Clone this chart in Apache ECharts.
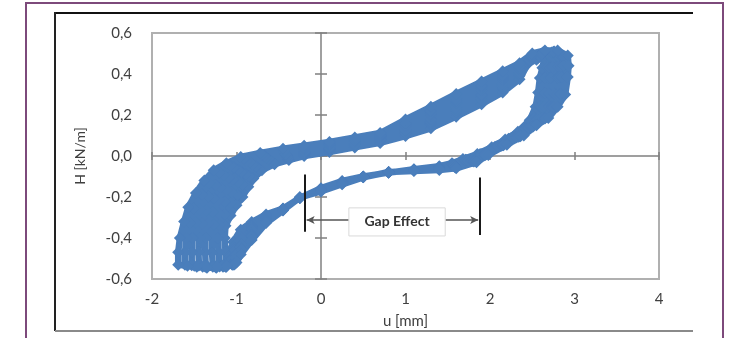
<!DOCTYPE html>
<html>
<head>
<meta charset="utf-8">
<script src="https://cdn.jsdelivr.net/npm/echarts@6/dist/echarts.min.js"></script>
<style>
  html, body { margin: 0; padding: 0; background: #fff; }
  #chart { width: 732px; height: 338px; }
</style>
</head>
<body>
<div id="chart"></div>
<script>
// u [mm], H [kN/m], one array per loading cycle
const cycle1 = [
  [-1.02, -0.525], [-1.12, -0.54], [-1.13, -0.47], [-1.14, -0.40], [-1.13, -0.34], [-1.07, -0.29], [-1.00, -0.24], [-0.93, -0.20], [-0.86, -0.15], [-0.80, -0.11], [-0.70, -0.07], [-0.55, -0.04], [-0.38, -0.02],
  [-0.20, 0.000], [0.10, 0.019], [0.40, 0.042], [0.70, 0.064], [1.00, 0.097], [1.30, 0.135], [1.60, 0.192], [1.90, 0.253], [2.15, 0.310], [2.35, 0.375], [2.45, 0.450],
  [2.55, 0.470], [2.62, 0.490], [2.64, 0.470], [2.62, 0.430], [2.59, 0.380], [2.57, 0.310], [2.54, 0.240], [2.47, 0.175], [2.33, 0.118], [2.18, 0.080], [2.02, 0.043], [1.85, 0.010], [1.68, -0.015],
  [1.55, -0.035], [1.40, -0.050], [1.10, -0.065], [0.80, -0.081], [0.50, -0.100], [0.25, -0.122], [0.00, -0.157], [-0.25, -0.205], [-0.45, -0.256], [-0.65, -0.285], [-0.82, -0.322], [-0.95, -0.360], [-1.04, -0.420], [-1.08, -0.480]
];
const cycle2 = [
  [-1.06, -0.525], [-1.13, -0.535], [-1.20, -0.539], [-1.21, -0.47], [-1.22, -0.40], [-1.20, -0.337], [-1.14, -0.284], [-1.07, -0.231], [-0.99, -0.189], [-0.92, -0.139], [-0.85, -0.099], [-0.74, -0.061], [-0.57, -0.032], [-0.39, -0.012],
  [-0.20, 0.010], [0.10, 0.029], [0.40, 0.052], [0.70, 0.074], [1.00, 0.113], [1.30, 0.156], [1.60, 0.214], [1.90, 0.275], [2.15, 0.331], [2.35, 0.391], [2.46, 0.460],
  [2.57, 0.479], [2.66, 0.495], [2.70, 0.474], [2.68, 0.432], [2.66, 0.381], [2.63, 0.308], [2.59, 0.240], [2.51, 0.177], [2.37, 0.124], [2.22, 0.084], [2.06, 0.045], [1.88, 0.009], [1.71, -0.018],
  [1.56, -0.040], [1.40, -0.054], [1.10, -0.067], [0.80, -0.080], [0.50, -0.101], [0.25, -0.125], [0.00, -0.160], [-0.25, -0.204], [-0.45, -0.258], [-0.65, -0.293], [-0.82, -0.340], [-0.95, -0.384], [-1.03, -0.440], [-1.07, -0.490]
];
const cycle3 = [
  [-1.05, -0.53], [-1.16, -0.54], [-1.28, -0.537], [-1.29, -0.47], [-1.29, -0.40], [-1.27, -0.334], [-1.21, -0.279], [-1.14, -0.223], [-1.06, -0.177], [-0.98, -0.127], [-0.89, -0.089], [-0.77, -0.051], [-0.60, -0.024], [-0.40, -0.004],
  [-0.20, 0.015], [0.10, 0.034], [0.40, 0.056], [0.70, 0.078], [1.00, 0.121], [1.30, 0.166], [1.60, 0.225], [1.90, 0.286], [2.15, 0.341], [2.35, 0.398], [2.46, 0.465],
  [2.58, 0.484], [2.68, 0.498], [2.73, 0.476], [2.71, 0.433], [2.69, 0.381], [2.66, 0.307], [2.61, 0.240], [2.53, 0.178], [2.40, 0.128], [2.25, 0.086], [2.08, 0.046], [1.89, 0.008], [1.72, -0.020],
  [1.57, -0.043], [1.40, -0.055], [1.10, -0.067], [0.80, -0.080], [0.50, -0.101], [0.25, -0.126], [0.00, -0.161], [-0.25, -0.204], [-0.45, -0.259], [-0.65, -0.297], [-0.82, -0.348], [-0.95, -0.396], [-1.02, -0.450], [-1.06, -0.500]
];
const cycle4 = [
  [-1.05, -0.52], [-1.15, -0.53], [-1.26, -0.535], [-1.365, -0.536], [-1.37, -0.47], [-1.37, -0.40], [-1.34, -0.331], [-1.28, -0.273], [-1.21, -0.214], [-1.12, -0.166], [-1.04, -0.116], [-0.94, -0.078], [-0.81, -0.042], [-0.62, -0.016], [-0.41, 0.004],
  [-0.20, 0.020], [0.10, 0.039], [0.40, 0.061], [0.70, 0.083], [1.00, 0.129], [1.30, 0.177], [1.60, 0.236], [1.90, 0.297], [2.15, 0.351], [2.35, 0.406], [2.47, 0.470],
  [2.59, 0.488], [2.69, 0.500], [2.75, 0.478], [2.74, 0.434], [2.72, 0.382], [2.70, 0.306], [2.64, 0.240], [2.56, 0.179], [2.42, 0.131], [2.27, 0.088], [2.09, 0.048], [1.90, 0.008], [1.74, -0.021],
  [1.57, -0.045], [1.40, -0.057], [1.10, -0.068], [0.80, -0.080], [0.50, -0.102], [0.25, -0.128], [0.00, -0.163], [-0.25, -0.204], [-0.45, -0.260], [-0.65, -0.302], [-0.82, -0.357], [-0.95, -0.408], [-1.02, -0.460], [-1.05, -0.505]
];
const cycle5 = [
  [-1.04, -0.525], [-1.14, -0.535], [-1.25, -0.54], [-1.35, -0.535], [-1.445, -0.534], [-1.45, -0.47], [-1.44, -0.40], [-1.41, -0.329], [-1.36, -0.267], [-1.27, -0.206], [-1.19, -0.154], [-1.09, -0.104], [-0.98, -0.067], [-0.84, -0.033], [-0.65, -0.009], [-0.42, 0.011],
  [-0.20, 0.030], [0.10, 0.048], [0.40, 0.071], [0.70, 0.093], [1.00, 0.146], [1.30, 0.198], [1.60, 0.259], [1.90, 0.319], [2.15, 0.372], [2.35, 0.422], [2.48, 0.480],
  [2.61, 0.497], [2.73, 0.505], [2.81, 0.482], [2.81, 0.436], [2.79, 0.383], [2.76, 0.304], [2.70, 0.240], [2.60, 0.181], [2.46, 0.137], [2.31, 0.092], [2.13, 0.050], [1.93, 0.007], [1.78, -0.024],
  [1.58, -0.050], [1.40, -0.061], [1.10, -0.070], [0.80, -0.079], [0.50, -0.102], [0.25, -0.132], [0.00, -0.167], [-0.25, -0.203], [-0.45, -0.262], [-0.65, -0.310], [-0.82, -0.375], [-0.95, -0.432], [-1.01, -0.480]
];
const cycle6 = [
  [-1.04, -0.525], [-1.16, -0.535], [-1.28, -0.54], [-1.40, -0.54], [-1.53, -0.533], [-1.53, -0.47], [-1.52, -0.40], [-1.48, -0.326], [-1.43, -0.261], [-1.34, -0.197], [-1.25, -0.143], [-1.15, -0.093], [-1.03, -0.056], [-0.88, -0.024], [-0.67, -0.001], [-0.43, 0.019],
  [-0.20, 0.035], [0.10, 0.053], [0.40, 0.075], [0.70, 0.097], [1.00, 0.154], [1.30, 0.208], [1.60, 0.270], [1.90, 0.330], [2.15, 0.382], [2.35, 0.430], [2.49, 0.485],
  [2.62, 0.502], [2.75, 0.508], [2.84, 0.484], [2.84, 0.437], [2.82, 0.384], [2.80, 0.303], [2.73, 0.240], [2.63, 0.182], [2.49, 0.140], [2.34, 0.094], [2.15, 0.052], [1.94, 0.006], [1.80, -0.026],
  [1.58, -0.052], [1.40, -0.062], [1.10, -0.070], [0.80, -0.079], [0.50, -0.102], [0.25, -0.133], [0.00, -0.168], [-0.25, -0.203], [-0.45, -0.263], [-0.65, -0.314], [-0.82, -0.384], [-0.95, -0.444], [-1.00, -0.490]
];
const cycle7 = [
  [-1.03, -0.53], [-1.13, -0.54], [-1.24, -0.545], [-1.37, -0.54], [-1.50, -0.535], [-1.61, -0.531], [-1.61, -0.47], [-1.59, -0.40], [-1.55, -0.323], [-1.50, -0.256], [-1.41, -0.189], [-1.32, -0.131], [-1.21, -0.081], [-1.07, -0.046], [-0.91, -0.014], [-0.70, 0.007], [-0.44, 0.027],
  [-0.20, 0.040], [0.10, 0.058], [0.40, 0.080], [0.70, 0.102], [1.00, 0.162], [1.30, 0.219], [1.60, 0.281], [1.90, 0.341], [2.15, 0.392], [2.35, 0.437], [2.49, 0.490],
  [2.63, 0.506], [2.76, 0.510], [2.86, 0.486], [2.87, 0.438], [2.85, 0.384], [2.83, 0.302], [2.75, 0.240], [2.65, 0.183], [2.51, 0.144], [2.36, 0.096], [2.16, 0.053], [1.95, 0.006], [1.81, -0.027],
  [1.59, -0.055], [1.40, -0.064], [1.10, -0.071], [0.80, -0.079], [0.50, -0.103], [0.25, -0.135], [0.00, -0.170], [-0.25, -0.203], [-0.45, -0.264], [-0.65, -0.319], [-0.82, -0.392], [-0.95, -0.456], [-1.00, -0.500]
];
const cycle8 = [
  [-1.02, -0.525], [-1.12, -0.535], [-1.23, -0.54], [-1.35, -0.545], [-1.47, -0.54], [-1.58, -0.535], [-1.69, -0.53], [-1.69, -0.47], [-1.67, -0.40], [-1.62, -0.32], [-1.57, -0.25], [-1.48, -0.18], [-1.38, -0.12], [-1.27, -0.07], [-1.12, -0.035], [-0.95, -0.005], [-0.72, 0.015], [-0.45, 0.035],
  [-0.20, 0.050], [0.10, 0.068], [0.40, 0.090], [0.70, 0.112], [1.00, 0.178], [1.30, 0.240], [1.60, 0.303], [1.90, 0.363], [2.15, 0.413], [2.35, 0.453], [2.50, 0.500],
  [2.65, 0.515], [2.80, 0.515], [2.92, 0.490], [2.93, 0.440], [2.92, 0.385], [2.89, 0.300], [2.80, 0.240], [2.69, 0.185], [2.55, 0.150], [2.40, 0.100], [2.20, 0.055], [1.98, 0.005], [1.84, -0.030],
  [1.60, -0.060], [1.40, -0.068], [1.10, -0.073], [0.80, -0.078], [0.50, -0.104], [0.25, -0.138], [0.00, -0.173], [-0.25, -0.202], [-0.45, -0.266], [-0.65, -0.327], [-0.82, -0.410], [-0.95, -0.480], [-1.00, -0.520]
];

const uRange = [-2, 4];
const hRange = [-0.6, 0.6];

// "Gap Effect" annotation, in data units
const gapLeft = { u: -0.19, top: -0.09, bottom: -0.37 };
const gapRight = { u: 1.88, top: -0.105, bottom: -0.385 };
const gapArrowH = -0.312;
const gapBox = { left: 0.33, right: 1.47, top: -0.253, bottom: -0.39 };

const blue = '#4a7ebb';
const axisGrey = '#808080';
const textColor = '#404040';
const font = 'Lato, "Open Sans", sans-serif';

const chart = echarts.init(document.getElementById('chart'), null, { renderer: 'canvas' });

const hiddenLabel = { show: false };
const zeroX = (pos) => ({
  type: 'value', min: uRange[0], max: uRange[1], interval: 1, position: pos,
  axisLine: { show: pos === 'bottom', onZero: true, onZeroAxisIndex: 0, lineStyle: { color: axisGrey, width: 1.5 } },
  axisTick: { show: true, length: 4, lineStyle: { color: axisGrey, width: 1.5 } },
  axisLabel: hiddenLabel, splitLine: { show: false }
});
const zeroY = (pos) => ({
  type: 'value', min: hRange[0], max: hRange[1], interval: 0.2, position: pos,
  axisLine: { show: pos === 'left', onZero: true, onZeroAxisIndex: 0, lineStyle: { color: axisGrey, width: 1.5 } },
  axisTick: { show: true, length: 6, lineStyle: { color: axisGrey, width: 1.5 } },
  axisLabel: hiddenLabel, splitLine: { show: false }
});

chart.setOption({
  animation: false,
  backgroundColor: '#fff',
  grid: {
    left: 152, top: 33, width: 507, height: 246,
    show: true, borderColor: '#b0b0b0', borderWidth: 2, backgroundColor: '#fff',
    outerBoundsMode: 'none'
  },
  xAxis: [
    {
      type: 'value', min: uRange[0], max: uRange[1], interval: 1, position: 'bottom',
      axisLine: { show: false, onZero: false }, axisTick: { show: false }, splitLine: { show: false },
      axisLabel: { color: textColor, fontSize: 15, fontFamily: font, margin: 13 },
      name: 'u [mm]', nameLocation: 'middle', nameGap: 35,
      nameTextStyle: { color: textColor, fontSize: 15, fontFamily: font }
    },
    zeroX('bottom'),
    zeroX('top')
  ],
  yAxis: [
    {
      type: 'value', min: hRange[0], max: hRange[1], interval: 0.2, position: 'left',
      axisLine: { show: false, onZero: false }, axisTick: { show: false }, splitLine: { show: false },
      axisLabel: {
        color: textColor, fontSize: 15, fontFamily: font, margin: 20,
        formatter: (v) => v.toFixed(1).replace('.', ',')
      },
      name: 'H [kN/m]', nameLocation: 'middle', nameGap: 65, nameRotate: 90,
      nameTextStyle: { color: textColor, fontSize: 14, fontFamily: font }
    },
    zeroY('left'),
    zeroY('right')
  ],
  series: [
    {
      type: 'line',
      data: [].concat(cycle1, cycle2, cycle3, cycle4, cycle5, cycle6, cycle7, cycle8),
      symbol: 'diamond', symbolSize: 12, showAllSymbol: true,
      itemStyle: { color: blue },
      lineStyle: { color: blue, width: 6.5 },
      z: 3
    },
    {
      type: 'line', data: [], z: 5,
      markLine: {
        silent: true, animation: false, symbol: 'none',
        label: { show: false },
        lineStyle: { color: '#1a1a1a', width: 2, type: 'solid' },
        data: [
          [{ coord: [gapLeft.u, gapLeft.top] }, { coord: [gapLeft.u, gapLeft.bottom] }],
          [{ coord: [gapRight.u, gapRight.top] }, { coord: [gapRight.u, gapRight.bottom] }],
          [{ coord: [gapBox.left, gapArrowH], symbol: 'none' },
           { coord: [gapLeft.u + 0.02, gapArrowH], symbol: 'arrow', symbolSize: [6, 8], lineStyle: { color: '#555', width: 1.5 } }],
          [{ coord: [gapBox.right, gapArrowH], symbol: 'none' },
           { coord: [gapRight.u - 0.02, gapArrowH], symbol: 'arrow', symbolSize: [6, 8], lineStyle: { color: '#555', width: 1.5 } }]
        ]
      }
    }
  ]
});

const p1 = chart.convertToPixel({ gridIndex: 0 }, [gapBox.left, gapBox.top]);
const p2 = chart.convertToPixel({ gridIndex: 0 }, [gapBox.right, gapBox.bottom]);

chart.setOption({
  graphic: [
    // outer page frame
    { type: 'rect', shape: { x: 26, y: 3, width: 697, height: 400 }, style: { fill: 'none', stroke: '#7d4a7b', lineWidth: 2 }, silent: true },
    { type: 'line', shape: { x1: 55, y1: 13, x2: 693, y2: 13 }, style: { stroke: '#111', lineWidth: 2 }, silent: true },
    { type: 'line', shape: { x1: 55, y1: 12, x2: 55, y2: 331 }, style: { stroke: '#222', lineWidth: 2 }, silent: true },
    { type: 'line', shape: { x1: 55, y1: 331, x2: 693, y2: 331 }, style: { stroke: '#8a8a8a', lineWidth: 2 }, silent: true },
    // label box
    {
      type: 'rect', z: 10,
      shape: { x: p1[0], y: p1[1], width: p2[0] - p1[0], height: p2[1] - p1[1] },
      style: { fill: '#fff', stroke: '#d9d9d9', lineWidth: 1 }
    },
    {
      type: 'text', z: 11,
      x: (p1[0] + p2[0]) / 2, y: (p1[1] + p2[1]) / 2,
      style: {
        text: 'Gap Effect', fill: '#333', font: 'bold 14px ' + font,
        align: 'center', verticalAlign: 'middle'
      }
    }
  ]
});
</script>
</body>
</html>
